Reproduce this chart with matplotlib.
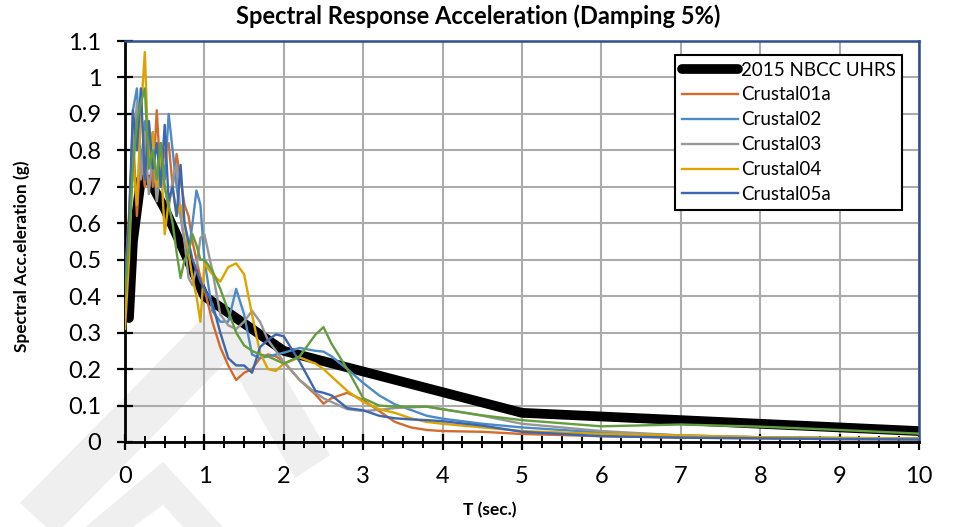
import matplotlib
matplotlib.use("Agg")
import matplotlib.pyplot as plt
from matplotlib.patches import Polygon
from matplotlib.ticker import MultipleLocator, FormatStrFormatter

plt.rcParams['font.family'] = ['Lato', 'DejaVu Sans']

# design spectrum
T_uhrs = [0.05, 0.1, 0.2, 0.3, 0.5, 1.0, 2.0, 5.0, 10.0]
sa_uhrs = [0.34, 0.55, 0.72, 0.72, 0.64, 0.40, 0.25, 0.08, 0.03]

# record spectra, all on the same period grid
T = [0.0, 0.05, 0.1, 0.15, 0.2, 0.25, 0.3, 0.35, 0.4, 0.45, 0.5, 0.55, 0.6, 0.65, 0.7,
     0.75, 0.8, 0.85, 0.9, 0.95, 1.0, 1.1, 1.2, 1.3, 1.4, 1.5, 1.6, 1.7, 1.8, 1.9, 2.0,
     2.2, 2.4, 2.5, 2.6, 2.8, 3.0, 3.2, 3.4, 3.6, 3.8, 4.0, 4.5, 5.0, 6.0, 7.0, 8.0, 9.0, 10.0]

crustal01a = [0.45, 0.62, 0.85, 0.62, 0.80, 0.70, 0.88, 0.70, 0.91, 0.72, 0.80, 0.82, 0.70, 0.79, 0.72,
              0.65, 0.62, 0.55, 0.50, 0.45, 0.42, 0.33, 0.26, 0.21, 0.17, 0.19, 0.20, 0.23, 0.24, 0.235, 0.22,
              0.17, 0.13, 0.105, 0.12, 0.135, 0.115, 0.085, 0.055, 0.04, 0.033, 0.03, 0.028, 0.022, 0.016, 0.012, 0.01, 0.008, 0.007]
crustal02 = [0.40, 0.55, 0.91, 0.97, 0.75, 0.88, 0.78, 0.85, 0.70, 0.82, 0.72, 0.90, 0.80, 0.70, 0.62,
             0.55, 0.52, 0.60, 0.69, 0.65, 0.50, 0.36, 0.33, 0.33, 0.42, 0.35, 0.24, 0.23, 0.235, 0.24, 0.245,
             0.258, 0.25, 0.248, 0.235, 0.20, 0.162, 0.128, 0.103, 0.088, 0.072, 0.064, 0.05, 0.04, 0.026, 0.018, 0.013, 0.011, 0.01]
crustal03 = [0.35, 0.60, 0.80, 0.93, 0.72, 0.85, 0.68, 0.80, 0.66, 0.75, 0.70, 0.64, 0.72, 0.76, 0.62,
             0.55, 0.45, 0.43, 0.48, 0.56, 0.57, 0.47, 0.35, 0.32, 0.31, 0.33, 0.36, 0.33, 0.28, 0.25, 0.22,
             0.17, 0.135, 0.12, 0.11, 0.09, 0.085, 0.088, 0.093, 0.095, 0.097, 0.09, 0.072, 0.05, 0.03, 0.018, 0.013, 0.011, 0.01]
crustal04 = [0.31, 0.50, 0.78, 0.65, 0.90, 1.07, 0.75, 0.85, 0.70, 0.78, 0.57, 0.66, 0.70, 0.62, 0.65,
             0.60, 0.52, 0.45, 0.40, 0.33, 0.49, 0.46, 0.44, 0.48, 0.49, 0.46, 0.35, 0.245, 0.20, 0.195, 0.215,
             0.232, 0.215, 0.20, 0.18, 0.14, 0.11, 0.09, 0.08, 0.065, 0.055, 0.05, 0.04, 0.03, 0.022, 0.018, 0.013, 0.011, 0.009]
crustal05a = [0.44, 0.60, 0.91, 0.80, 0.97, 0.72, 0.88, 0.75, 0.82, 0.70, 0.87, 0.66, 0.70, 0.62, 0.76,
              0.60, 0.55, 0.50, 0.47, 0.44, 0.42, 0.38, 0.30, 0.23, 0.21, 0.21, 0.19, 0.26, 0.28, 0.295, 0.29,
              0.22, 0.14, 0.135, 0.128, 0.093, 0.087, 0.072, 0.065, 0.062, 0.06, 0.057, 0.045, 0.028, 0.016, 0.012, 0.01, 0.008, 0.007]
crustal06 = [0.40, 0.55, 0.75, 0.88, 0.93, 0.97, 0.75, 0.80, 0.72, 0.82, 0.70, 0.65, 0.60, 0.52, 0.45,
             0.50, 0.52, 0.57, 0.54, 0.50, 0.50, 0.47, 0.42, 0.36, 0.30, 0.265, 0.25, 0.24, 0.235, 0.225, 0.215,
             0.235, 0.295, 0.315, 0.27, 0.20, 0.12, 0.10, 0.097, 0.097, 0.097, 0.09, 0.073, 0.06, 0.043, 0.048, 0.042, 0.033, 0.023]

W, H = 957, 527
fig = plt.figure(figsize=(W / 100, H / 100), dpi=100)
ax = fig.add_axes([125 / W, 1 - 442 / H, 794 / W, 401 / H])
ax.set_facecolor('none')


def px(pts):
    return [(x / W, 1 - y / H) for x, y in pts]


# faint watermark behind the chart
wm = '#efefef'
fig.patches.append(Polygon(px([(20, 503), (233, 287), (330, 455), (295, 478), (228, 360), (55, 535)]),
                           closed=True, transform=fig.transFigure, fc=wm, ec='none', zorder=-1))
fig.patches.append(Polygon(px([(70, 540), (163, 462), (235, 540), (195, 540), (163, 505), (115, 540)]),
                           closed=True, transform=fig.transFigure, fc=wm, ec='none', zorder=-1))

ax.plot(T_uhrs, sa_uhrs, color='black', lw=7, solid_capstyle='round', label='2015 NBCC UHRS', zorder=2)
ax.plot(T, crustal01a, color='#D36A2E', lw=1.7, label='Crustal01a', zorder=3)
ax.plot(T, crustal02, color='#4D8BC6', lw=1.7, label='Crustal02', zorder=3)
ax.plot(T, crustal03, color='#979797', lw=1.7, label='Crustal03', zorder=3)
ax.plot(T, crustal04, color='#DCA400', lw=1.7, label='Crustal04', zorder=3)
ax.plot(T, crustal05a, color='#3D66B0', lw=1.7, label='Crustal05a', zorder=3)
ax.plot(T, crustal06, color='#629E3E', lw=1.7, label='_Crustal06', zorder=3)

ax.set_xlim(0, 10)
ax.set_ylim(0, 1.1)
ax.xaxis.set_major_locator(MultipleLocator(1))
ax.xaxis.set_minor_locator(MultipleLocator(0.25))
ax.yaxis.set_major_locator(MultipleLocator(0.1))
ax.yaxis.set_major_formatter(FormatStrFormatter('%g'))
ax.grid(True, which='major', color='#ababab', lw=1.5, zorder=0)
ax.set_axisbelow(True)

ax.tick_params(axis='both', which='major', direction='inout', length=12, width=1.6,
               labelsize=17, pad=11, color='black')
ax.tick_params(axis='x', which='minor', direction='inout', length=9, width=1.4, color='black')

for s in ['left', 'bottom']:
    ax.spines[s].set_color('black')
    ax.spines[s].set_linewidth(2)
for s in ['top', 'right']:
    ax.spines[s].set_color('#2F5090')
    ax.spines[s].set_linewidth(1.8)

leg = ax.legend(loc='upper right', bbox_to_anchor=(0.979, 0.965), borderaxespad=0,
                fontsize=13.5, handlelength=3.0, handletextpad=0.15, labelspacing=0.42,
                fancybox=False, framealpha=1, edgecolor='black', borderpad=0.35)
leg.get_frame().set_linewidth(1.5)

fig.text(0.5, 1 - 16 / H, 'Spectral Response Acceleration (Damping 5%)', ha='center', va='center',
         fontsize=17, fontweight='bold')
fig.text(490 / W, 1 - 510 / H, 'T (sec.)', ha='center', va='center', fontsize=12.5, fontweight='bold')
fig.text(22 / W, 1 - 256 / H, 'Spectral Acc.eleration (g)', ha='center', va='center', rotation=90,
         fontsize=12.4, fontweight='bold')

fig.savefig('out.png', dpi=100, facecolor='white')
